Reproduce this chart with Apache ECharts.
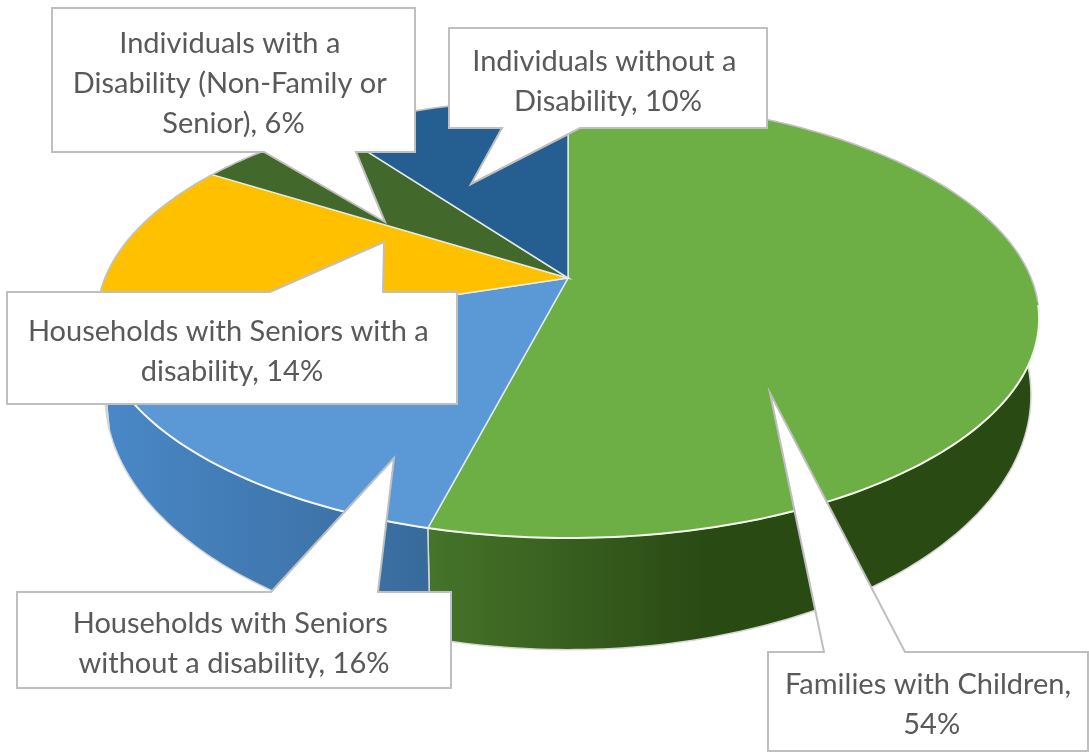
<!DOCTYPE html>
<html>
<head>
<meta charset="utf-8">
<style>html,body{margin:0;padding:0;background:#fff}#chart{width:1089px;height:752px}</style>
<script src="https://cdn.jsdelivr.net/npm/echarts@6/dist/echarts.min.js"></script>
</head>
<body>
<div id="chart"></div>
<script>
// Housing need by household type, drawn as a tilted pie.
const categories = [
  'Families with Children',
  'Households with Seniors without a disability',
  'Households with Seniors with a disability',
  'Individuals with a Disability (Non-Family or Senior)',
  'Individuals without a Disability'
];
const shares = [54, 16, 14, 6, 10];
const topColors = ['#6DAE45', '#5A98D6', '#FFC000', '#43682B', '#255E91'];
const wallFrom = ['#46742A', '#4A88C8', '#C99700', '#2F4A1E', '#1A4368'];
const wallTo = ['#2A4A14', '#386B9C', '#A67C00', '#2A421A', '#173B5C'];

// Projection of the unit disc: top face and the lower edge of the rim.
const TOP = { cx: 568, cy: 278, R: 463, Q: 212, k: 0.1845 };
const BASE = { cx: 568, cy: 348, R: 455, Q: 246, k: 0.1845 };
const project = (p, a) => {
  const u = Math.sin(a), v = Math.cos(a), w = 1 + p.k * v;
  return [p.cx + p.R * u / w, p.cy - p.Q * v / w];
};
const sweep = (p, a0, a1) => {
  const n = Math.max(8, Math.ceil((a1 - a0) * 60)), pts = [];
  for (let i = 0; i <= n; i++) pts.push(project(p, a0 + (a1 - a0) * i / n));
  return pts;
};

const total = shares.reduce((s, x) => s + x, 0);
let running = 0;
const wedges = shares.map((value, i) => {
  const a0 = running / total * 2 * Math.PI;
  running += value;
  return [i, value, a0, running / total * 2 * Math.PI];
});

function renderWall(params, api) {
  const i = api.value(0), a0 = api.value(2), a1 = api.value(3);
  const upper = sweep(TOP, a0, a1), lower = sweep(BASE, a0, a1).reverse();
  const xs = upper.map(q => q[0]);
  const left = Math.min(...xs), right = Math.max(...xs);
  return {
    type: 'polygon',
    shape: { points: upper.concat(lower) },
    style: {
      fill: {
        type: 'linear', global: true, x: left, y: 0, x2: right, y2: 0,
        colorStops: i === 0
          ? [{ offset: 0, color: wallFrom[i] }, { offset: 0.45, color: wallTo[i] }, { offset: 1, color: wallTo[i] }]
          : [{ offset: 0, color: wallFrom[i] }, { offset: 1, color: wallTo[i] }]
      },
      stroke: '#d4d8d2',
      lineWidth: 1.5,
      lineJoin: 'round'
    }
  };
}

function renderTop(params, api) {
  const i = api.value(0), a0 = api.value(2), a1 = api.value(3);
  const arc = sweep(TOP, a0, a1);
  const apex = [TOP.cx, TOP.cy];
  // The rim reads white where a wall lies under it and grey along the far side.
  const near = [], far = [];
  arc.forEach((q, n) => {
    const a = a0 + (a1 - a0) * n / (arc.length - 1);
    (Math.cos(a) < -0.12 ? near : far).push(q);
  });
  const children = [
    { type: 'polygon', shape: { points: [apex].concat(arc) }, style: { fill: topColors[i] } },
    { type: 'polyline', shape: { points: [arc[arc.length - 1], apex, arc[0]] },
      style: { fill: 'none', stroke: 'rgba(232,240,236,0.9)', lineWidth: 1.5 } }
  ];
  if (far.length > 1) children.push({ type: 'polyline', shape: { points: far },
    style: { fill: 'none', stroke: '#c2c2c2', lineWidth: 1.5 } });
  if (near.length > 1) children.push({ type: 'polyline', shape: { points: near },
    style: { fill: 'none', stroke: '#f2f6ee', lineWidth: 2 } });
  return { type: 'group', children };
}

// Callout frames: box corners, the pointer's base along one edge, and its tip.
const callouts = [
  { cat: 0, x0: 768, y0: 652, x1: 1088, y1: 751, edge: 'top', b0: 824, b1: 905, tip: [770, 393] },
  { cat: 1, x0: 17, y0: 592, x1: 451, y1: 688, edge: 'top', b0: 271, b1: 378, tip: [394, 458] },
  { cat: 2, x0: 7, y0: 292, x1: 457, y1: 404, edge: 'top', b0: 270, b1: 383, tip: [384, 242] },
  { cat: 3, x0: 52, y0: 8, x1: 415, y1: 152, edge: 'bottom', b0: 264, b1: 356, tip: [385, 222] },
  { cat: 4, x0: 449, y0: 28, x1: 767, y1: 128, edge: 'bottom', b0: 502, b1: 580, tip: [471, 184] }
];

function renderCallout(params, api) {
  const c = callouts[api.value(0)];
  const pts = c.edge === 'top'
    ? [[c.x0, c.y0], [c.b0, c.y0], c.tip, [c.b1, c.y0], [c.x1, c.y0], [c.x1, c.y1], [c.x0, c.y1]]
    : [[c.x0, c.y0], [c.x1, c.y0], [c.x1, c.y1], [c.b1, c.y1], c.tip, [c.b0, c.y1], [c.x0, c.y1]];
  return {
    type: 'group',
    children: [
      { type: 'polygon', shape: { points: pts },
        style: { fill: '#ffffff', stroke: '#bfbfbf', lineWidth: 2 } },
      { type: 'text', x: (c.x0 + c.x1) / 2, y: (c.y0 + c.y1) / 2 + 3.5,
        style: {
          text: categories[c.cat] + ', ' + shares[c.cat] + '%',
          width: c.x1 - c.x0 - 28,
          overflow: 'break',
          align: 'center',
          verticalAlign: 'middle',
          fill: '#595959',
          fontFamily: 'Lato',
          fontSize: 29,
          lineHeight: 40
        } }
    ]
  };
}

const chart = echarts.init(document.getElementById('chart'), null, { renderer: 'canvas' });
chart.setOption({
  animation: false,
  backgroundColor: '#ffffff',
  series: [
    { type: 'custom', coordinateSystem: 'none', z: 1, data: wedges, renderItem: renderWall, silent: true },
    { type: 'custom', coordinateSystem: 'none', z: 2, data: wedges, renderItem: renderTop, silent: true },
    { type: 'custom', coordinateSystem: 'none', z: 3, data: callouts.map((c, i) => [i]), renderItem: renderCallout, silent: true }
  ]
});
</script>
</body>
</html>
